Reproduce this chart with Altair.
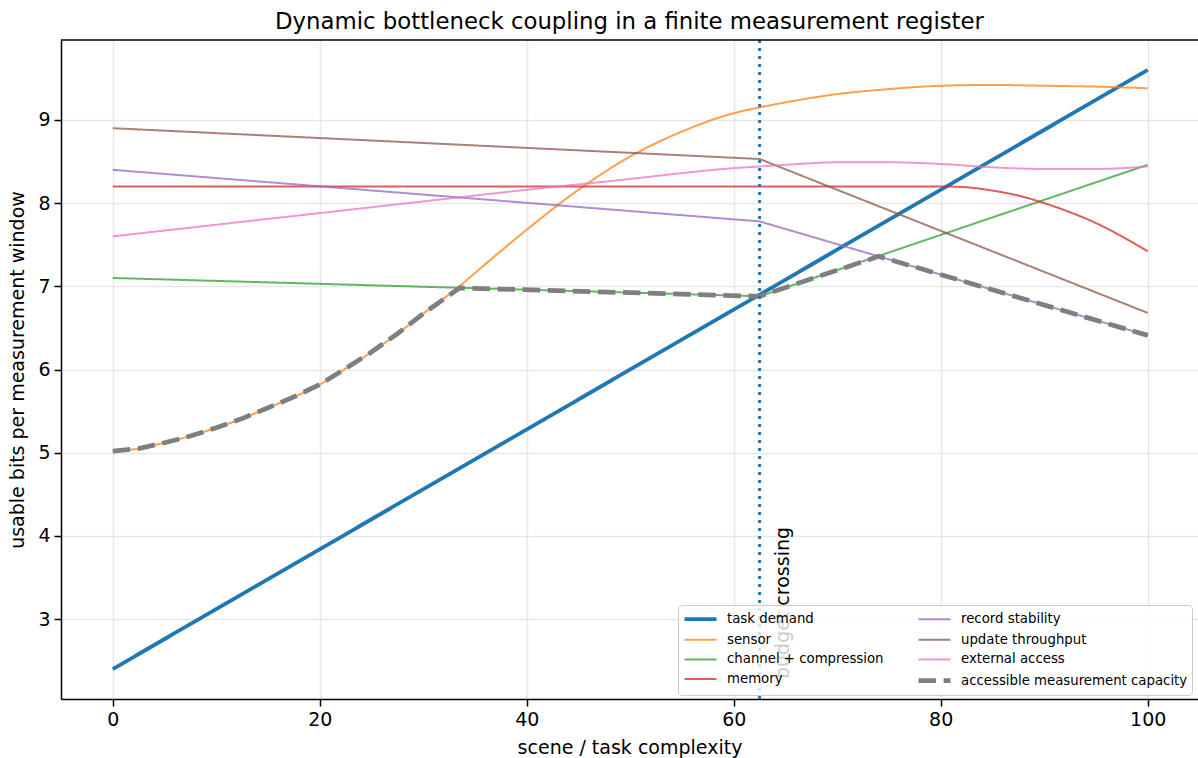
import altair as alt
import pandas as pd

# ---------------- data ----------------
task_x = [0, 100]
task_y = [2.4, 9.6]

sensor_x = [0, 2.5, 5, 7.5, 10, 12.5, 15, 17.5, 20, 22.5, 25, 27.5, 30, 33.5, 35, 40, 45, 50, 55, 60,
            62.5, 65, 70, 75, 80, 85, 90, 95, 100]
sensor_y = [5.02, 5.05, 5.12, 5.2, 5.3, 5.41, 5.54, 5.67, 5.82, 6.01, 6.21, 6.43, 6.67, 7.0, 7.16, 7.68,
            8.16, 8.56, 8.86, 9.08, 9.15, 9.21, 9.31, 9.37, 9.41, 9.42, 9.41, 9.40, 9.38]

channel_x = [0, 62.5, 100]
channel_y = [7.1, 6.88, 8.46]

memory_x = [0, 80, 82.5, 85, 87.5, 90, 92.5, 95, 97.5, 100]
memory_y = [8.2, 8.2, 8.19, 8.15, 8.09, 8.0, 7.89, 7.76, 7.6, 7.42]

stability_x = [0, 62.5, 100]
stability_y = [8.4, 7.78, 6.41]

throughput_x = [0, 62.5, 100]
throughput_y = [8.9, 8.53, 6.68]

access_x = [0, 10, 20, 30, 40, 50, 55, 60, 62.5, 65, 70, 75, 80, 85, 90, 95, 100]
access_y = [7.6, 7.74, 7.88, 8.02, 8.16, 8.29, 8.36, 8.42, 8.44, 8.46, 8.49, 8.49, 8.47, 8.43, 8.41,
            8.41, 8.44]

capacity_x = [0, 2.5, 5, 7.5, 10, 12.5, 15, 17.5, 20, 22.5, 25, 27.5, 30, 33.5, 62.5, 74, 100]
capacity_y = [5.02, 5.05, 5.12, 5.2, 5.3, 5.41, 5.54, 5.67, 5.82, 6.01, 6.21, 6.43, 6.67, 6.98, 6.88,
              7.36, 6.41]

crossing_x = [62.5]
note_x = [65.3]
note_y = [2.28]
note_text = ["budget crossing"]

series_names = ["task demand", "sensor", "channel + compression", "memory", "record stability",
                "update throughput", "external access", "accessible measurement capacity"]
series_colors = ["#1f77b4", "#ff7f0e", "#2ca02c", "#d62728", "#9467bd", "#8c564b", "#e377c2", "#7f7f7f"]
series_widths = [3.8, 2, 2, 2, 2, 2, 2, 4.75]
series_opacity = [1, 0.75, 0.75, 0.75, 0.75, 0.75, 0.75, 1]
series_dash = [[1, 0]] * 7 + [[17.5, 7.6]]
smooth = [False, True, False, True, False, False, True, False]

xs = [task_x, sensor_x, channel_x, memory_x, stability_x, throughput_x, access_x, capacity_x]
ys = [task_y, sensor_y, channel_y, memory_y, stability_y, throughput_y, access_y, capacity_y]

rows = []
for name, sx, sy in zip(series_names, xs, ys):
    for i, (a, b) in enumerate(zip(sx, sy)):
        rows.append({"series": name, "x": a, "y": b, "i": i})
df = pd.DataFrame(rows)

W, H = 1137, 659
xscale = alt.Scale(domain=[-5, 104.86], nice=False, zero=False)
yscale = alt.Scale(domain=[2.04, 9.96], nice=False, zero=False)

leg = alt.Legend(
    title=None, orient="none", legendX=617, legendY=565, columns=2,
    symbolType="M-1,0H3", symbolSize=256, symbolStrokeWidth=1.5,
    labelFontSize=13.3, labelFont="DejaVu Sans", labelColor="black", labelOffset=24,
    columnPadding=25, rowPadding=3.7, padding=4,
    fillColor="rgba(255,255,255,0.8)", strokeColor="#cccccc", cornerRadius=4, labelLimit=400,
)

base = alt.Chart(df).encode(
    x=alt.X("x:Q", scale=xscale,
            axis=alt.Axis(values=[0, 20, 40, 60, 80, 100], format="d", title="scene / task complexity")),
    y=alt.Y("y:Q", scale=yscale,
            axis=alt.Axis(values=[3, 4, 5, 6, 7, 8, 9], format="d",
                          title="usable bits per measurement window")),
    color=alt.Color("series:N", scale=alt.Scale(domain=series_names, range=series_colors), legend=leg),
    strokeWidth=alt.StrokeWidth("series:N", scale=alt.Scale(type="ordinal", domain=series_names,
                                                            range=series_widths), legend=leg),
    opacity=alt.Opacity("series:N", scale=alt.Scale(type="ordinal", domain=series_names,
                                                    range=series_opacity), legend=leg),
    strokeDash=alt.StrokeDash("series:N", scale=alt.Scale(type="ordinal", domain=series_names,
                                                          range=series_dash), legend=leg),
    order="i:Q",
)

layers = []
for name, sm in zip(series_names, smooth):
    layers.append(base.transform_filter(alt.datum.series == name).mark_line(
        interpolate="monotone" if sm else "linear"))

vline = alt.Chart(pd.DataFrame({"x": crossing_x})).mark_rule(
    color="#1f77b4", strokeWidth=3, strokeDash=[3, 5]
).encode(x=alt.X("x:Q", scale=xscale))

note = alt.Chart(pd.DataFrame({"x": note_x, "y": note_y, "t": note_text})).mark_text(
    angle=270, align="left", baseline="alphabetic", fontSize=19, font="DejaVu Sans", color="black"
).encode(x=alt.X("x:Q", scale=xscale), y=alt.Y("y:Q", scale=yscale), text="t:N")

top_spine = alt.Chart(pd.DataFrame({"a": [0]})).mark_rule(color="black", strokeWidth=1.5).encode(
    x=alt.value(0), x2=alt.value(W), y=alt.value(0)
)

chart = alt.layer(*layers, vline, note, top_spine).properties(
    width=W, height=H,
    title=alt.TitleParams("Dynamic bottleneck coupling in a finite measurement register",
                          fontSize=22.8, font="DejaVu Sans", fontWeight="normal", color="black",
                          anchor="middle", offset=5),
    autosize=alt.AutoSizeParams(type="none"),
    padding={"left": 61, "top": 40, "right": 0, "bottom": 59},
    background="white",
).configure_view(stroke=None).configure_axis(
    labelFont="DejaVu Sans", titleFont="DejaVu Sans", labelFontSize=19, titleFontSize=19,
    labelColor="black", titleColor="black", titleFontWeight="normal",
    domainColor="black", domainWidth=1.5, tickColor="black", tickWidth=1.5, tickSize=7,
    labelPadding=4, grid=True, gridColor="#e8e8e8", gridWidth=1.5,
).configure_axisX(titlePadding=9).configure_axisY(titlePadding=10)

chart.save("out.html", embed_options={"renderer": "svg", "actions": False})
